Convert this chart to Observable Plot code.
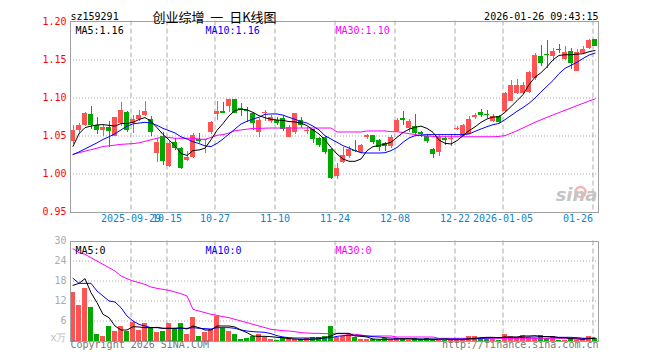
<!DOCTYPE html>
<html><head><meta charset="utf-8">
<script src="https://cdn.jsdelivr.net/npm/d3@7"></script>
<script src="https://cdn.jsdelivr.net/npm/@observablehq/plot@0.6"></script>
<style>
body{margin:0;background:#fff}
#wrap{position:relative;width:660px;height:360px;background:#fff;overflow:hidden}
#wrap svg{position:absolute;left:0}
</style></head><body><div id="wrap"></div>
<script>
// ---- data ----
const tickIdx = [10,16,24,34,44,54,64,72,87];
const tickLabels = ["2025-09-29","10-15","10-27","11-10","11-24","12-08","12-22","2026-01-05","01-26"];
const priceTicks = [1.20,1.15,1.10,1.05,1.00,0.95];
const priceGrid = [1.15,1.10,1.05,1.00];
const volTicks = [30,24,18,12,6];
const volGrid = [24,18,12,6];

const opens = [1.0425,1.0570,1.0636,1.0785,1.0636,1.0575,1.0606,1.0500,1.0664,1.0814,
1.0664,1.0717,1.0774,1.0721,1.0275,1.0496,1.0098,1.0420,1.0340,1.0177,
1.0213,1.0456,1.0438,1.0544,1.0780,1.0820,1.0886,1.0978,1.0858,1.0840,
1.0790,1.0548,1.0795,1.0693,1.0707,1.0732,1.0483,1.0548,1.0702,1.0570,
1.0579,1.0470,1.0474,1.0316,0.9965,1.0145,1.0228,1.0312,1.0285,1.0482,
1.0504,1.0447,1.0395,1.0360,1.0557,1.0727,1.0605,1.0623,1.0548,1.0491,
1.0316,1.0285,1.0465,1.0465,1.0597,1.0500,1.0526,1.0746,1.0811,1.0785,
1.0689,1.0759,1.0816,1.0957,1.1058,1.1058,1.1067,1.1256,1.1550,1.1576,
1.1550,1.1642,1.1506,1.1607,1.1353,1.1585,1.1651,1.1769];
const highs = [1.0636,1.0660,1.0810,1.0886,1.0745,1.0640,1.0686,1.0750,1.0946,1.0820,
1.0770,1.0832,1.0950,1.0752,1.0470,1.0550,1.0425,1.0470,1.0350,1.0300,
1.0530,1.0535,1.0460,1.0690,1.0950,1.0940,1.0980,1.0980,1.0930,1.0870,
1.0810,1.0724,1.0829,1.0770,1.0740,1.0768,1.0636,1.0800,1.0737,1.0614,
1.0590,1.0480,1.0490,1.0330,1.0132,1.0350,1.0360,1.0447,1.0386,1.0518,
1.0504,1.0460,1.0417,1.0504,1.0732,1.0825,1.0711,1.0780,1.0557,1.0518,
1.0329,1.0504,1.0491,1.0526,1.0630,1.0650,1.0754,1.0790,1.0855,1.0842,
1.0780,1.0768,1.1067,1.1232,1.1241,1.1210,1.1344,1.1585,1.1695,1.1760,
1.1651,1.1708,1.1673,1.1651,1.1638,1.1673,1.1773,1.1773];
const lows = [1.0386,1.0520,1.0620,1.0580,1.0526,1.0490,1.0354,1.0490,1.0620,1.0550,
1.0530,1.0686,1.0760,1.0496,1.0155,1.0110,1.0080,1.0310,1.0060,1.0167,
1.0200,1.0400,1.0270,1.0526,1.0700,1.0800,1.0810,1.0800,1.0754,1.0680,
1.0570,1.0482,1.0697,1.0670,1.0640,1.0560,1.0474,1.0526,1.0605,1.0526,
1.0395,1.0350,1.0263,0.9930,0.9930,1.0132,1.0210,1.0285,1.0272,1.0460,
1.0386,1.0294,1.0294,1.0342,1.0548,1.0636,1.0548,1.0526,1.0474,1.0395,
1.0210,1.0228,1.0373,1.0360,1.0570,1.0491,1.0518,1.0720,1.0746,1.0724,
1.0680,1.0658,1.0803,1.0948,1.1050,1.1050,1.1058,1.1232,1.1410,1.1388,
1.1475,1.1585,1.1497,1.1375,1.1344,1.1576,1.1638,1.1673];
const closes = [1.0570,1.0636,1.0800,1.0636,1.0570,1.0606,1.0553,1.0739,1.0840,1.0575,
1.0717,1.0770,1.0819,1.0540,1.0416,1.0168,1.0407,1.0332,1.0076,1.0222,
1.0509,1.0443,1.0452,1.0675,1.0825,1.0815,1.0978,1.0800,1.0855,1.0825,
1.0658,1.0702,1.0812,1.0750,1.0671,1.0579,1.0614,1.0790,1.0636,1.0575,
1.0460,1.0373,1.0285,0.9943,1.0075,1.0241,1.0316,1.0308,1.0373,1.0509,
1.0417,1.0351,1.0360,1.0474,1.0702,1.0722,1.0689,1.0535,1.0526,1.0430,
1.0254,1.0482,1.0460,1.0470,1.0605,1.0636,1.0715,1.0768,1.0776,1.0780,
1.0759,1.0680,1.1058,1.1158,1.1167,1.1158,1.1335,1.1554,1.1453,1.1554,
1.1616,1.1625,1.1598,1.1453,1.1594,1.1638,1.1760,1.1681];
const ma5 = [1.0363,1.0530,1.0610,1.0630,1.0646,1.0650,1.0640,1.0630,1.0664,1.0664,
1.0680,1.0717,1.0743,1.0695,1.0610,1.0520,1.0450,1.0370,1.0270,1.0244,
1.0309,1.0316,1.0340,1.0450,1.0575,1.0665,1.0765,1.0835,1.0852,1.0845,
1.0810,1.0768,1.0740,1.0720,1.0710,1.0705,1.0690,1.0685,1.0670,1.0636,
1.0580,1.0526,1.0447,1.0350,1.0263,1.0197,1.0167,1.0167,1.0197,1.0307,
1.0360,1.0373,1.0395,1.0417,1.0482,1.0545,1.0590,1.0614,1.0630,1.0600,
1.0548,1.0447,1.0404,1.0395,1.0439,1.0504,1.0570,1.0620,1.0680,1.0724,
1.0750,1.0752,1.0811,1.0887,1.0964,1.1044,1.1175,1.1274,1.1333,1.1411,
1.1502,1.1560,1.1569,1.1569,1.1577,1.1582,1.1609,1.1625];
const ma10 = [1.0257,1.0290,1.0330,1.0370,1.0410,1.0455,1.0490,1.0530,1.0580,1.0630,
1.0660,1.0670,1.0680,1.0670,1.0640,1.0600,1.0570,1.0540,1.0490,1.0460,
1.0425,1.0400,1.0370,1.0360,1.0403,1.0460,1.0526,1.0592,1.0658,1.0693,
1.0724,1.0746,1.0785,1.0790,1.0790,1.0775,1.0745,1.0720,1.0690,1.0670,
1.0630,1.0580,1.0504,1.0460,1.0417,1.0373,1.0342,1.0307,1.0280,1.0276,
1.0276,1.0276,1.0280,1.0307,1.0350,1.0417,1.0474,1.0504,1.0513,1.0518,
1.0518,1.0518,1.0518,1.0518,1.0518,1.0518,1.0526,1.0561,1.0592,1.0623,
1.0649,1.0665,1.0715,1.0770,1.0825,1.0875,1.0930,1.1000,1.1080,1.1155,
1.1230,1.1320,1.1390,1.1430,1.1470,1.1520,1.1565,1.1590];
const ma30 = [1.0257,1.0280,1.0300,1.0320,1.0340,1.0363,1.0370,1.0380,1.0390,1.0395,
1.0400,1.0410,1.0430,1.0450,1.0470,1.0487,1.0480,1.0470,1.0470,1.0470,
1.0470,1.0460,1.0456,1.0480,1.0510,1.0518,1.0540,1.0570,1.0580,1.0590,
1.0600,1.0600,1.0603,1.0605,1.0605,1.0605,1.0605,1.0605,1.0605,1.0605,
1.0605,1.0605,1.0605,1.0605,1.0553,1.0553,1.0553,1.0553,1.0553,1.0566,
1.0566,1.0566,1.0566,1.0557,1.0557,1.0545,1.0530,1.0520,1.0505,1.0500,
1.0495,1.0490,1.0490,1.0490,1.0490,1.0490,1.0490,1.0490,1.0490,1.0490,
1.0490,1.0495,1.0505,1.0536,1.0570,1.0606,1.0643,1.0680,1.0713,1.0746,
1.0777,1.0808,1.0838,1.0869,1.0900,1.0930,1.0960,1.0988];
const volumes = [14.7,10.8,15.9,10.2,2.1,1.5,4.5,2.9,4.5,3.0,
5.5,3.3,5.4,4.0,2.7,3.0,5.4,3.7,5.2,1.9,
7.2,1.5,2.7,3.5,7.3,3.7,3.0,2.1,0.6,0.9,
1.5,2.0,1.0,0.6,0.3,1.0,0.7,0.5,0.5,0.8,
1.2,1.2,1.3,4.5,1.2,1.5,2.0,1.2,0.5,0.5,
0.5,0.3,0.7,0.3,0.7,0.5,0.2,0.7,0.5,0.9,
0.5,0.3,0.3,0.5,0.5,0.5,1.5,1.5,0.7,0.5,
0.5,0.3,2.1,1.5,0.7,1.8,1.2,0.7,1.8,0.7,
1.5,0.3,0.3,0.7,0.3,0.5,1.5,0.7];
const vma5 = [16.7,17.3,18.7,14.5,11.5,8.0,7.0,4.5,3.3,3.3,
4.3,4.2,4.0,4.0,4.1,3.8,3.8,3.8,4.0,3.6,
4.5,4.0,3.3,3.3,4.5,4.5,4.5,4.2,3.3,2.5,
1.5,1.4,1.4,1.3,1.1,1.0,0.7,0.6,0.5,0.5,
0.5,0.7,1.0,1.5,2.3,2.3,2.3,1.5,1.4,1.2,
0.6,0.5,0.5,0.5,0.6,0.7,0.7,0.6,0.5,0.6,
0.5,0.5,0.6,0.4,0.4,0.4,0.7,0.8,1.0,1.1,
1.1,1.0,1.2,1.2,1.2,1.5,1.5,1.6,1.4,1.3,
1.3,1.0,1.0,0.7,0.6,0.5,0.7,0.8];
const vma10 = [18.8,17.3,17.3,17.3,15.0,13.5,12.0,11.7,10.0,7.5,
6.0,5.0,4.5,4.0,4.0,3.8,3.8,3.8,3.8,3.8,
4.0,3.8,3.7,3.6,4.0,4.0,4.0,3.8,3.3,3.0,
2.8,2.7,2.6,2.2,1.6,1.2,1.0,0.9,0.9,0.9,
0.9,0.9,0.9,1.0,1.4,1.6,1.7,1.7,1.6,1.5,
1.3,1.2,1.0,0.9,0.8,0.6,0.6,0.6,0.6,0.6,
0.6,0.6,0.6,0.6,0.6,0.6,0.6,0.6,0.8,0.9,
1.0,1.0,1.1,1.1,1.1,1.1,1.2,1.2,1.3,1.3,
1.2,1.1,1.1,1.1,1.0,0.8,0.8,0.9];
const vma30 = [27.7,26.5,26.0,25.0,24.0,23.0,22.0,21.0,19.5,18.7,
18.0,17.5,17.0,16.2,15.8,15.5,15.2,14.7,14.2,13.5,
9.5,9.0,8.5,8.0,7.7,7.3,7.0,6.5,6.0,5.5,
5.0,4.5,4.0,3.5,3.3,3.1,3.0,2.8,2.5,2.4,
2.3,2.3,2.2,2.2,2.2,2.2,2.1,2.0,1.8,1.5,
1.5,1.5,1.5,1.5,1.2,1.2,1.2,1.2,1.2,1.2,
1.2,0.8,0.8,0.8,0.8,0.8,0.8,0.8,0.8,0.8,
0.8,0.8,0.8,0.8,0.8,0.8,0.8,0.8,0.8,0.8,
0.8,0.8,0.8,0.8,0.8,0.8,0.8,0.8];

// ---- table built from the arrays ----
const rows = opens.map((o, i) => ({
  i, o, h: highs[i], l: lows[i], c: closes[i],
  m5: ma5[i], m10: ma10[i], m30: ma30[i],
  v: volumes[i], v5: vma5[i], v10: vma10[i], v30: vma30[i]
}));
const ticks = tickIdx.map((i, k) => ({i, label: tickLabels[k]}));

const mono = "DejaVu Sans Mono";
const W = 5/6, C = 2.5/6, G = 0.5/6;
const RED = "#ff5252", GREEN = "#00a800";
const col = d => d.c >= d.o ? RED : GREEN;
const GRID = "#aaaaaa", FRAME = "#a0a0a0", XLAB = "#0a86d2";

const main = Plot.plot({
  width: 660, height: 232,
  marginLeft: 70, marginRight: 62, marginTop: 20.5, marginBottom: 20.5,
  x: {domain: [0, 88], axis: null},
  y: {domain: [0.95, 1.2], range: [211.5, 21.5], axis: null},
  style: {background: "transparent", fontFamily: mono, fontSize: "10px", overflow: "visible"},
  marks: [
    Plot.ruleY(priceGrid, {stroke: GRID, strokeDasharray: "1,2"}),
    Plot.ruleX(tickIdx, {x: d => d + G, stroke: GRID, strokeDasharray: "5,3"}),
    Plot.dot(["logo"], {frameAnchor: "bottom-right", dx: -18, dy: -20, r: 5, stroke: "#f6b4b4", strokeWidth: 2.5, fill: "none"}),
    Plot.text(["sina"], {frameAnchor: "bottom-right", dx: -1, dy: -11, textAnchor: "end", text: d => d,
      fontSize: 18, fontWeight: "bold", fontStyle: "italic", fontFamily: "DejaVu Sans", fill: "#c4c4c4"}),
    Plot.ruleX(rows, {x: d => d.i + C, y1: "l", y2: "h", stroke: col, shapeRendering: "crispEdges"}),
    Plot.rect(rows, {x1: "i", x2: d => d.i + W, y1: "o", y2: "c", fill: col, shapeRendering: "crispEdges"}),
    Plot.ruleY(rows.filter(d => Math.abs(d.c - d.o) < 0.0014), {y: "c", x1: "i", x2: d => d.i + W, stroke: col, shapeRendering: "crispEdges"}),
    Plot.line(rows, {x: d => d.i + C, y: "m30", stroke: "#ff00ff", strokeWidth: 1}),
    Plot.line(rows, {x: d => d.i + C, y: "m10", stroke: "#0000ff", strokeWidth: 1}),
    Plot.line(rows, {x: d => d.i + C, y: "m5", stroke: "#000000", strokeWidth: 1}),
    Plot.frame({stroke: FRAME, shapeRendering: "crispEdges"}),
    Plot.text(priceTicks, {y: d => d, frameAnchor: "left", dx: -4, textAnchor: "end", text: d => d.toFixed(2), fill: "#ff0000"}),
    Plot.text(ticks.slice(0, -1), {x: d => d.i + G, frameAnchor: "bottom", dy: 10, textAnchor: "middle", text: "label", fill: XLAB}),
    Plot.text(ticks.slice(-1), {x: d => d.i + G, frameAnchor: "bottom", dy: 10, textAnchor: "end", text: "label", fill: XLAB}),
    Plot.text(["sz159291"], {frameAnchor: "top-left", dy: -8, textAnchor: "start", text: d => d, fill: "#000"}),
    Plot.text(["创业综增\u00a0\u00a0一\u00a0\u00a0日K线图"], {frameAnchor: "top-left", dx: 144, dy: -8, textAnchor: "middle", text: d => d,
      fontFamily: "Noto Sans CJK SC", fontSize: 13, fill: "#000"}),
    Plot.text(["2026-01-26 09:43:15"], {frameAnchor: "top-right", dy: -8, textAnchor: "end", text: d => d, fill: "#000"}),
    Plot.text(["MA5:1.16"], {frameAnchor: "top-left", dx: 5, dy: 6, textAnchor: "start", text: d => d, fill: "#000"}),
    Plot.text(["MA10:1.16"], {frameAnchor: "top-left", dx: 135, dy: 6, textAnchor: "start", text: d => d, fill: "#0000ff"}),
    Plot.text(["MA30:1.10"], {frameAnchor: "top-left", dx: 265, dy: 6, textAnchor: "start", text: d => d, fill: "#ff00ff"})
  ]
});

const vol = Plot.plot({
  width: 660, height: 135,
  marginLeft: 70, marginRight: 62, marginTop: 15.5, marginBottom: 19.5,
  x: {domain: [0, 88], axis: null},
  y: {domain: [0, 30], range: [115.5, 15.5], axis: null},
  style: {background: "transparent", fontFamily: mono, fontSize: "10px", overflow: "visible"},
  marks: [
    Plot.ruleY(volGrid, {stroke: GRID, strokeDasharray: "1,2"}),
    Plot.ruleX(tickIdx, {x: d => d + G, stroke: GRID, strokeDasharray: "5,3"}),
    Plot.rect(rows, {x1: "i", x2: d => d.i + W, y1: 0, y2: "v", fill: col, shapeRendering: "crispEdges"}),
    Plot.line(rows, {x: d => d.i + C, y: "v30", stroke: "#ff00ff", strokeWidth: 1}),
    Plot.line(rows, {x: d => d.i + C, y: "v10", stroke: "#0000ff", strokeWidth: 1}),
    Plot.line(rows, {x: d => d.i + C, y: "v5", stroke: "#000000", strokeWidth: 1}),
    Plot.frame({stroke: FRAME, shapeRendering: "crispEdges"}),
    Plot.text(volTicks, {y: d => d, frameAnchor: "left", dx: -4, textAnchor: "end", text: d => String(d), fill: "#aaaaaa"}),
    Plot.text(["x万"], {frameAnchor: "bottom-left", dx: -4, textAnchor: "end", text: d => d, fill: "#bbbbbb"}),
    Plot.text(["MA5:0"], {frameAnchor: "top-left", dx: 5, dy: 6, textAnchor: "start", text: d => d, fill: "#000"}),
    Plot.text(["MA10:0"], {frameAnchor: "top-left", dx: 135, dy: 6, textAnchor: "start", text: d => d, fill: "#0000ff"}),
    Plot.text(["MA30:0"], {frameAnchor: "top-left", dx: 265, dy: 6, textAnchor: "start", text: d => d, fill: "#ff00ff"}),
    Plot.text(["Copyright 2026 SINA.COM"], {frameAnchor: "bottom-left", dy: 6.5, textAnchor: "start", text: d => d, fill: "#777777"}),
    Plot.text(["http://finance.sina.com.cn"], {frameAnchor: "bottom-right", dy: 6.5, textAnchor: "end", text: d => d, fill: "#777777"})
  ]
});

const wrap = document.getElementById("wrap");
vol.style.top = "225px";
main.style.top = "0px";
wrap.appendChild(vol);
wrap.appendChild(main);
</script></body></html>
